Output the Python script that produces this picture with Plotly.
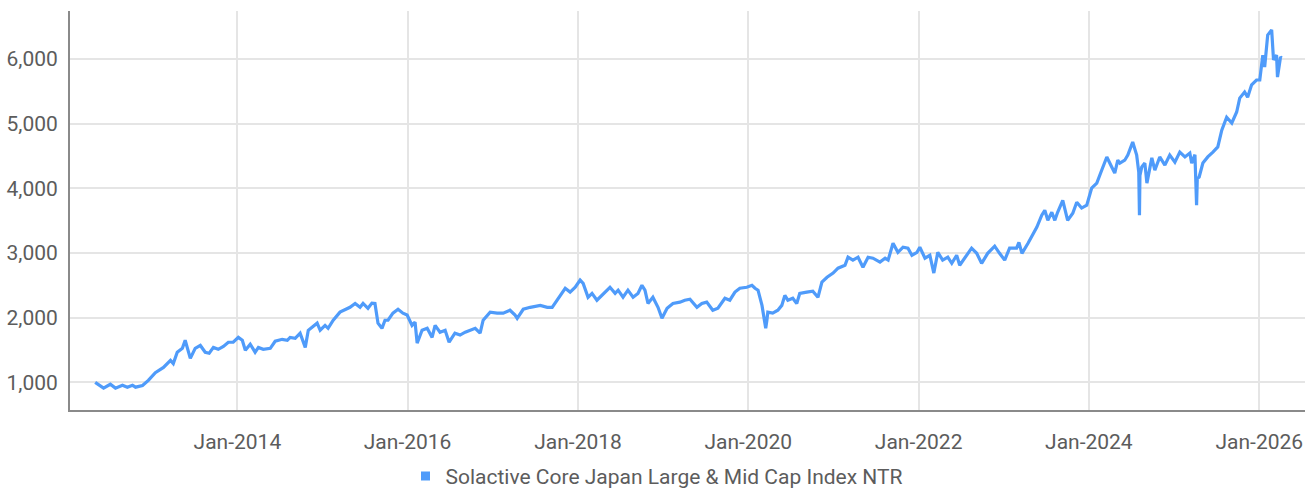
import plotly.graph_objects as go

dates = [
    "2012-05-01", "2012-06-06", "2012-07-05", "2012-07-27", "2012-08-26", "2012-09-16", "2012-10-08",
    "2012-10-21", "2012-11-20", "2012-12-15", "2013-01-14", "2013-02-18", "2013-03-20", "2013-04-01",
    "2013-04-18", "2013-05-10", "2013-05-22", "2013-06-13", "2013-07-04", "2013-07-26", "2013-08-16",
    "2013-09-02", "2013-09-20", "2013-10-11", "2013-11-02", "2013-11-23", "2013-12-14", "2014-01-05",
    "2014-01-22", "2014-02-04", "2014-02-25", "2014-03-18", "2014-04-01", "2014-04-22", "2014-05-22",
    "2014-06-12", "2014-07-12", "2014-08-03", "2014-08-15", "2014-09-06", "2014-09-27", "2014-10-19",
    "2014-11-01", "2014-12-09", "2014-12-22", "2015-01-12", "2015-01-25", "2015-02-16", "2015-03-17",
    "2015-04-16", "2015-04-29", "2015-05-21", "2015-06-11", "2015-06-24", "2015-07-15", "2015-08-01",
    "2015-08-14", "2015-08-27", "2015-09-13", "2015-09-26", "2015-10-09", "2015-10-30", "2015-11-21",
    "2015-12-12", "2015-12-30", "2016-01-20", "2016-02-02", "2016-02-11", "2016-03-03", "2016-03-25",
    "2016-04-15", "2016-04-28", "2016-05-19", "2016-06-10", "2016-06-27", "2016-07-22", "2016-08-13",
    "2016-09-04", "2016-09-25", "2016-10-17", "2016-11-07", "2016-11-20", "2016-12-20", "2017-01-19",
    "2017-02-14", "2017-03-15", "2017-04-06", "2017-04-15", "2017-05-11", "2017-06-10", "2017-07-23",
    "2017-08-22", "2017-09-12", "2017-10-08", "2017-11-07", "2017-11-28", "2017-12-20", "2018-01-10",
    "2018-01-23", "2018-02-13", "2018-03-02", "2018-03-23", "2018-04-14", "2018-05-05", "2018-05-18",
    "2018-06-09", "2018-06-22", "2018-07-13", "2018-08-03", "2018-08-25", "2018-09-15", "2018-10-02",
    "2018-10-15", "2018-10-28", "2018-11-18", "2018-12-10", "2018-12-27", "2019-01-18", "2019-02-12",
    "2019-03-14", "2019-04-04", "2019-04-26", "2019-05-26", "2019-06-16", "2019-07-07", "2019-08-02",
    "2019-08-24", "2019-09-23", "2019-10-14", "2019-11-05", "2019-11-26", "2019-12-26", "2020-01-17",
    "2020-01-30", "2020-02-12", "2020-02-29", "2020-03-16", "2020-03-21", "2020-03-25", "2020-04-15",
    "2020-05-07", "2020-05-24", "2020-06-06", "2020-06-19", "2020-07-10", "2020-07-27", "2020-08-09",
    "2020-09-08", "2020-10-04", "2020-10-26", "2020-11-12", "2020-12-04", "2020-12-30", "2021-01-20",
    "2021-02-19", "2021-03-04", "2021-03-25", "2021-04-16", "2021-05-07", "2021-05-29", "2021-06-19",
    "2021-07-19", "2021-08-10", "2021-08-23", "2021-09-13", "2021-10-04", "2021-10-26", "2021-11-16",
    "2021-12-03", "2021-12-25", "2022-01-06", "2022-01-28", "2022-02-18", "2022-03-07", "2022-03-24",
    "2022-04-14", "2022-05-06", "2022-05-23", "2022-06-13", "2022-06-26", "2022-07-26", "2022-08-16",
    "2022-09-07", "2022-09-28", "2022-10-24", "2022-11-23", "2022-12-14", "2023-01-05", "2023-01-26",
    "2023-02-25", "2023-03-07", "2023-03-20", "2023-04-15", "2023-05-06", "2023-05-23", "2023-06-13",
    "2023-06-26", "2023-07-09", "2023-07-26", "2023-08-08", "2023-08-20", "2023-09-11", "2023-10-02",
    "2023-10-24", "2023-11-10", "2023-12-01", "2023-12-23", "2024-01-13", "2024-02-04", "2024-02-25",
    "2024-03-18", "2024-04-08", "2024-04-21", "2024-05-04", "2024-05-13", "2024-06-03", "2024-06-16",
    "2024-07-07", "2024-07-24", "2024-08-02", "2024-08-05", "2024-08-07", "2024-08-15", "2024-08-28",
    "2024-09-06", "2024-09-27", "2024-10-10", "2024-10-31", "2024-11-22", "2024-12-13", "2025-01-04",
    "2025-01-25", "2025-02-16", "2025-03-09", "2025-03-17", "2025-03-31", "2025-04-07", "2025-04-10",
    "2025-04-18", "2025-05-04", "2025-05-25", "2025-06-16", "2025-07-07", "2025-07-24", "2025-08-14",
    "2025-09-05", "2025-09-26", "2025-10-09", "2025-10-30", "2025-11-12", "2025-11-29", "2025-12-20",
    "2026-01-03", "2026-01-16", "2026-01-24", "2026-02-06", "2026-02-23", "2026-03-03", "2026-03-16",
    "2026-03-20", "2026-04-02", "2026-04-07",
]

values = [
    1000, 910, 970, 910, 955, 925, 955,
    925, 950, 1030, 1150, 1230, 1340, 1290,
    1465, 1525, 1650, 1370, 1525, 1570, 1465,
    1450, 1540, 1510, 1555, 1620, 1620, 1695,
    1650, 1495, 1590, 1465, 1540, 1510, 1525,
    1635, 1665, 1650, 1695, 1680, 1760, 1540,
    1805, 1915, 1805, 1880, 1835, 1960, 2085,
    2130, 2160, 2220, 2160, 2220, 2145, 2225,
    2220, 1915, 1835, 1960, 1960, 2070, 2130,
    2070, 2040, 1880, 1930, 1605, 1805, 1835,
    1695, 1880, 1775, 1805, 1620, 1760, 1730,
    1775, 1805, 1835, 1760, 1960, 2085, 2070,
    2070, 2115, 2040, 1990, 2130, 2160, 2190,
    2160, 2160, 2300, 2455, 2395, 2470, 2580,
    2530, 2315, 2375, 2270, 2345, 2425, 2470,
    2375, 2425, 2315, 2425, 2315, 2375, 2500,
    2425, 2220, 2315, 2160, 1990, 2145, 2220,
    2240, 2270, 2285, 2160, 2220, 2240, 2115,
    2145, 2300, 2270, 2395, 2455, 2470, 2500,
    2455, 2425, 2190, 1835, 1960, 2085, 2070,
    2115, 2190, 2345, 2270, 2300, 2220, 2375,
    2395, 2410, 2315, 2550, 2625, 2690, 2765,
    2810, 2935, 2890, 2935, 2780, 2935, 2920,
    2860, 2920, 2890, 3150, 3010, 3090, 3075,
    2965, 3010, 3090, 2920, 2965, 2690, 3010,
    2890, 2935, 2840, 2965, 2810, 2965, 3075,
    2995, 2840, 2995, 3105, 2995, 2890, 3075,
    3075, 3165, 2995, 3150, 3275, 3400, 3585,
    3660, 3505, 3630, 3505, 3630, 3815, 3505,
    3615, 3785, 3695, 3740, 4005, 4080, 4280,
    4485, 4330, 4235, 4435, 4390, 4435, 4515,
    4715, 4515, 4250, 3585, 4200, 4330, 4390,
    4080, 4470, 4280, 4485, 4360, 4515, 4405,
    4560, 4485, 4545, 4390, 4520, 3740, 4150,
    4175, 4390, 4485, 4560, 4640, 4900, 5100,
    5010, 5180, 5395, 5490, 5410, 5600, 5675,
    5675, 6060, 5875, 6370, 6450, 5985, 6060,
    5720, 6030, 6015,
]

series_name = "Solactive Core Japan Large & Mid Cap Index NTR"
tick_dates = ["2014-01-01", "2016-01-01", "2018-01-01", "2020-01-01", "2022-01-01", "2024-01-01", "2026-01-01"]
tick_labels = ["Jan-2014", "Jan-2016", "Jan-2018", "Jan-2020", "Jan-2022", "Jan-2024", "Jan-2026"]
y_ticks = [1000, 2000, 3000, 4000, 5000, 6000]

LINE = "#4f9bfa"
FONT = "Roboto, sans-serif"
TXT = "#5c5c5c"

fig = go.Figure()
fig.add_trace(go.Scatter(x=dates, y=values, mode="lines", line=dict(color=LINE, width=3.2),
                         showlegend=False, name=series_name))
fig.add_trace(go.Scatter(x=[None], y=[None], mode="markers", name=series_name,
                         marker=dict(symbol="square", size=9, color=LINE), showlegend=True))

fig.update_layout(
    width=1314, height=492,
    margin=dict(l=70, r=9, t=11, b=82),
    paper_bgcolor="white", plot_bgcolor="white",
    font=dict(family=FONT, size=21, color=TXT),
    legend=dict(orientation="h", xref="container", yref="container",
                x=0.5, xanchor="center", y=0.032, yanchor="middle",
                font=dict(size=21, color=TXT), itemwidth=30),
    xaxis=dict(range=["2012-01-14", "2026-07-16"], tickvals=tick_dates, ticktext=tick_labels,
               showgrid=True, gridcolor="#e5e5e5", gridwidth=2,
               showline=True, linecolor="#8a8a8a", linewidth=2,
               ticks="", ticklabelstandoff=12, zeroline=False, automargin=False),
    yaxis=dict(range=[572, 6742], tickvals=y_ticks, tickformat=",d",
               showgrid=True, gridcolor="#e5e5e5", gridwidth=2,
               showline=True, linecolor="#8a8a8a", linewidth=2,
               ticks="", ticklabelstandoff=6, zeroline=False, automargin=False),
)

fig.write_html("out.html", config={"displayModeBar": False},
               post_script="document.body.style.margin='0';document.body.style.overflow='hidden';")
